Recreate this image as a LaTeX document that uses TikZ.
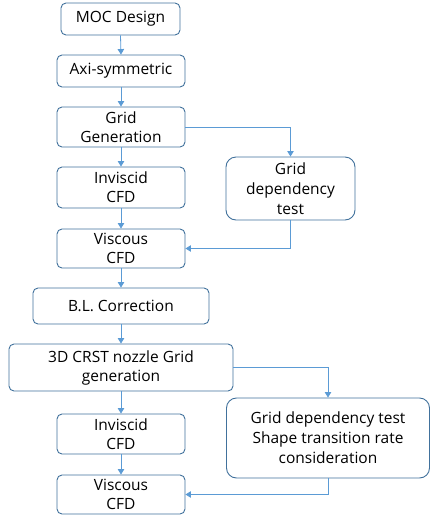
\documentclass[tikz,border=0pt]{standalone}
\usepackage{fontspec}
\setmainfont{Open Sans}
\usetikzlibrary{arrows.meta}
\definecolor{boxline}{HTML}{41719C}
\definecolor{arrowc}{HTML}{5B9BD5}
\begin{document}
\begin{tikzpicture}[x=1pt,y=-1pt,
  box/.style={draw=boxline, line width=0.9pt, rounded corners=5pt, fill=white, inner sep=0pt, align=center, font=\fontsize{15.5}{19}\selectfont, text=black},
  bigbox/.style={box, rounded corners=10pt, font=\fontsize{15.5}{20}\selectfont},
  conn/.style={draw=arrowc, line width=0.8pt, -{Triangle[width=6.5pt,length=5.5pt]}}]
\useasboundingbox (0,0) rectangle (431,515);
\node[box, minimum width=119pt, minimum height=32pt] (moc) at (120.5,19) {MOC Design};
\node[box, minimum width=128pt, minimum height=32pt] (axi) at (121,71) {Axi-symmetric};
\node[box, minimum width=128pt, minimum height=40pt] (gg) at (121,127) {Grid\\Generation};
\node[bigbox, minimum width=129pt, minimum height=63pt] (gdt) at (290.5,188.5) {Grid\\dependency\\test};
\node[box, minimum width=128pt, minimum height=41pt] (inv1) at (121,187.5) {Inviscid\\CFD};
\node[box, minimum width=128pt, minimum height=39pt] (vis1) at (121,248.5) {Viscous\\CFD};
\node[box, minimum width=176pt, minimum height=36pt] (bl) at (121,306) {B.L. Correction};
\node[box, minimum width=224pt, minimum height=47pt] (crst) at (121,367.5) {3D CRST nozzle Grid\\generation};
\node[bigbox, minimum width=203pt, minimum height=80pt] (gdt2) at (328,438) {Grid dependency test\\Shape transition rate\\consideration};
\node[box, minimum width=128pt, minimum height=40pt] (inv2) at (121,434) {Inviscid\\CFD};
\node[box, minimum width=128pt, minimum height=39pt] (vis2) at (121,494.5) {Viscous\\CFD};
\draw[conn] (moc.south) -- (axi.north);
\draw[conn] (axi.south) -- (gg.north);
\draw[conn] (gg.south) -- (inv1.north);
\draw[conn] (inv1.south) -- (vis1.north);
\draw[conn] (vis1.south) -- (bl.north);
\draw[conn] (bl.south) -- (crst.north);
\draw[conn] (crst.south) -- (inv2.north);
\draw[conn] (inv2.south) -- (vis2.north);
\draw[conn] (gg.east) -| (gdt.north);
\draw[conn] (gdt.south) |- (vis1.east);
\draw[conn] (crst.east) -| (gdt2.north);
\draw[conn] (gdt2.south) |- (vis2.east);
\end{tikzpicture}
\end{document}
